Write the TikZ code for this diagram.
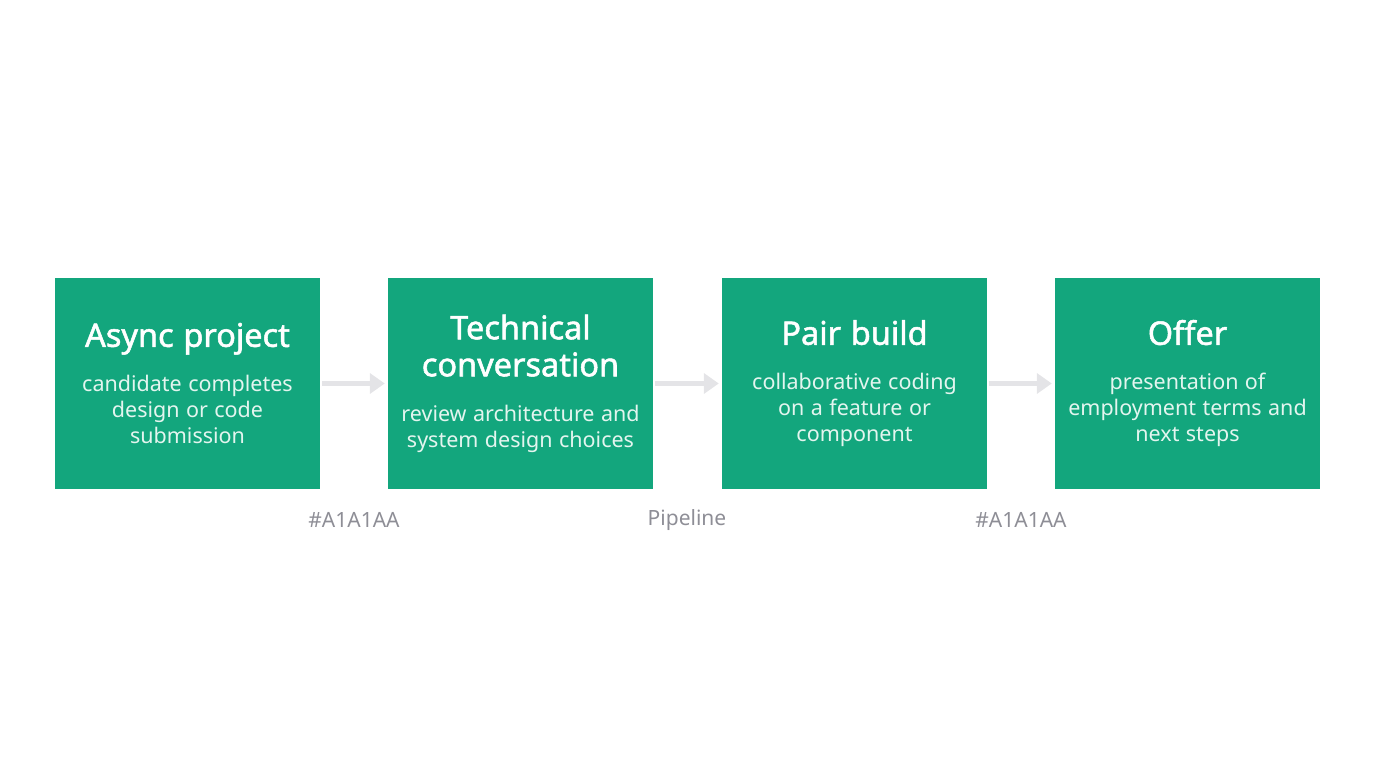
\documentclass[tikz,border=0pt]{standalone}
\usepackage{fontspec}
\setmainfont{Noto Sans}
\newfontfamily\headfont{Noto Sans}[FakeBold=1.6]
\usepackage{xcolor}
\usetikzlibrary{arrows.meta}
\definecolor{stagegreen}{HTML}{13A67D}
\definecolor{stagetext}{HTML}{E3F5EF}
\definecolor{flowgray}{HTML}{E4E4E7}
\definecolor{notegray}{HTML}{8E8E96}
\tikzstyle{stage}=[rectangle,fill=stagegreen,minimum width=265pt,minimum height=211pt,text width=258pt,align=center,inner sep=0pt,text=white]
\tikzstyle{flow} = [draw=flowgray,line width=5pt,-{Triangle[length=15pt,width=20pt]},shorten >=3pt,shorten <=2pt]
\tikzstyle{note} = [text=notegray,font=\fontsize{21}{25}\selectfont]
\newcommand{\stagelines}[2]{{\fontsize{32.5}{37}\selectfont\headfont\spaceskip=0.3em #1\par}\vskip 19pt{\fontsize{21.5}{26}\selectfont\spaceskip=0.3em\color{stagetext}#2\par}}

\begin{document}
\begin{tikzpicture}[x=1pt,y=1pt]

  \useasboundingbox (0,0) rectangle (1376,768);

   \foreach \x/\name/\head/\detail in {187.5/s1/{Async project}/{candidate completes\\design or code\\submission}, 520.5/s2/{Technical\\conversation}/{review architecture and\\system design choices}, 854.5/s3/{Pair build}/{collaborative coding\\on a feature or\\component}, 1187.5/s4/{Offer}/{presentation of\\employment terms and\\next steps}}
          \node[stage] (\name) at (\x, 384.5) {\stagelines{\head}{\detail}};

   \foreach \x/\name/\label in {354/n1/{\#A1A1AA}, 687/n2/{Pipeline}, 1021/n3/{\#A1A1AA}}
          \node[note] (\name) at (\x, 248) {\label};

  \foreach \source/ \dest in {s1/s2, s2/s3, s3/s4}
         \path[flow] (\source) -- (\dest);

   \end{tikzpicture}
\end{document}
